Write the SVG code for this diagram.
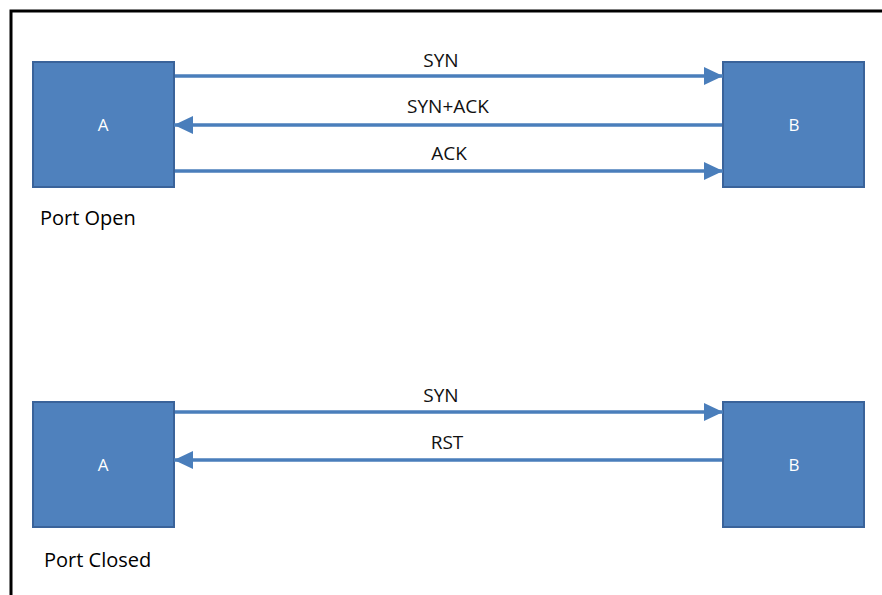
<svg xmlns="http://www.w3.org/2000/svg" width="882" height="595" viewBox="0 0 882 595">
  <defs>
    <marker id="arrow" viewBox="0 0 19 18" refX="19" refY="9" markerWidth="19" markerHeight="18" markerUnits="userSpaceOnUse" orient="auto">
      <path d="M0,0 L19,9 L0,18 Z" fill="#4a7ebb"/>
    </marker>
    <style>
      .box { fill: #4f81bd; stroke: #3a639a; stroke-width: 2; }
      .boxlabel { font-family: "Open Sans", "Liberation Sans", sans-serif; font-size: 17px; fill: #ffffff; text-anchor: middle; }
      .msg { font-family: "Open Sans", "Liberation Sans", sans-serif; font-size: 19px; fill: #111111; text-anchor: middle; }
      .caption { font-family: "Open Sans", "Liberation Sans", sans-serif; font-size: 20px; fill: #000000; }
      .link { stroke: #4a7ebb; stroke-width: 3.5; fill: none; marker-end: url(#arrow); }
      .frame { stroke: #000000; stroke-width: 3; fill: none; }
    </style>
  </defs>
  <rect width="882" height="595" fill="#ffffff"/>
  <!-- frame: top and left edges -->
  <path class="frame" d="M11,595 L11,11 L882,11"/>

  <!-- open port handshake -->
  <g id="open-a">
    <rect class="box" x="33" y="62" width="141" height="125"/>
    <text class="boxlabel" x="103" y="131">A</text>
  </g>
  <g id="open-b">
    <rect class="box" x="723" y="62" width="141" height="125"/>
    <text class="boxlabel" x="794" y="131">B</text>
  </g>
  <text class="caption" x="40" y="225">Port Open</text>

  <!-- closed port exchange -->
  <g id="closed-a">
    <rect class="box" x="33" y="402" width="141" height="125"/>
    <text class="boxlabel" x="103" y="471">A</text>
  </g>
  <g id="closed-b">
    <rect class="box" x="723" y="402" width="141" height="125"/>
    <text class="boxlabel" x="794" y="471">B</text>
  </g>
  <text class="caption" x="44" y="567">Port Closed</text>

  <g id="connectors">
    <line class="link" x1="175" y1="76" x2="723" y2="76"/>
    <line class="link" x1="722" y1="125" x2="174" y2="125"/>
    <line class="link" x1="175" y1="171" x2="723" y2="171"/>
    <line class="link" x1="175" y1="412" x2="723" y2="412"/>
    <line class="link" x1="722" y1="460" x2="174" y2="460"/>
    <text class="msg" x="441" y="67">SYN</text>
    <text class="msg" x="448" y="113">SYN+ACK</text>
    <text class="msg" x="449" y="160">ACK</text>
    <text class="msg" x="441" y="402">SYN</text>
    <text class="msg" x="447" y="449">RST</text>
  </g>
</svg>
